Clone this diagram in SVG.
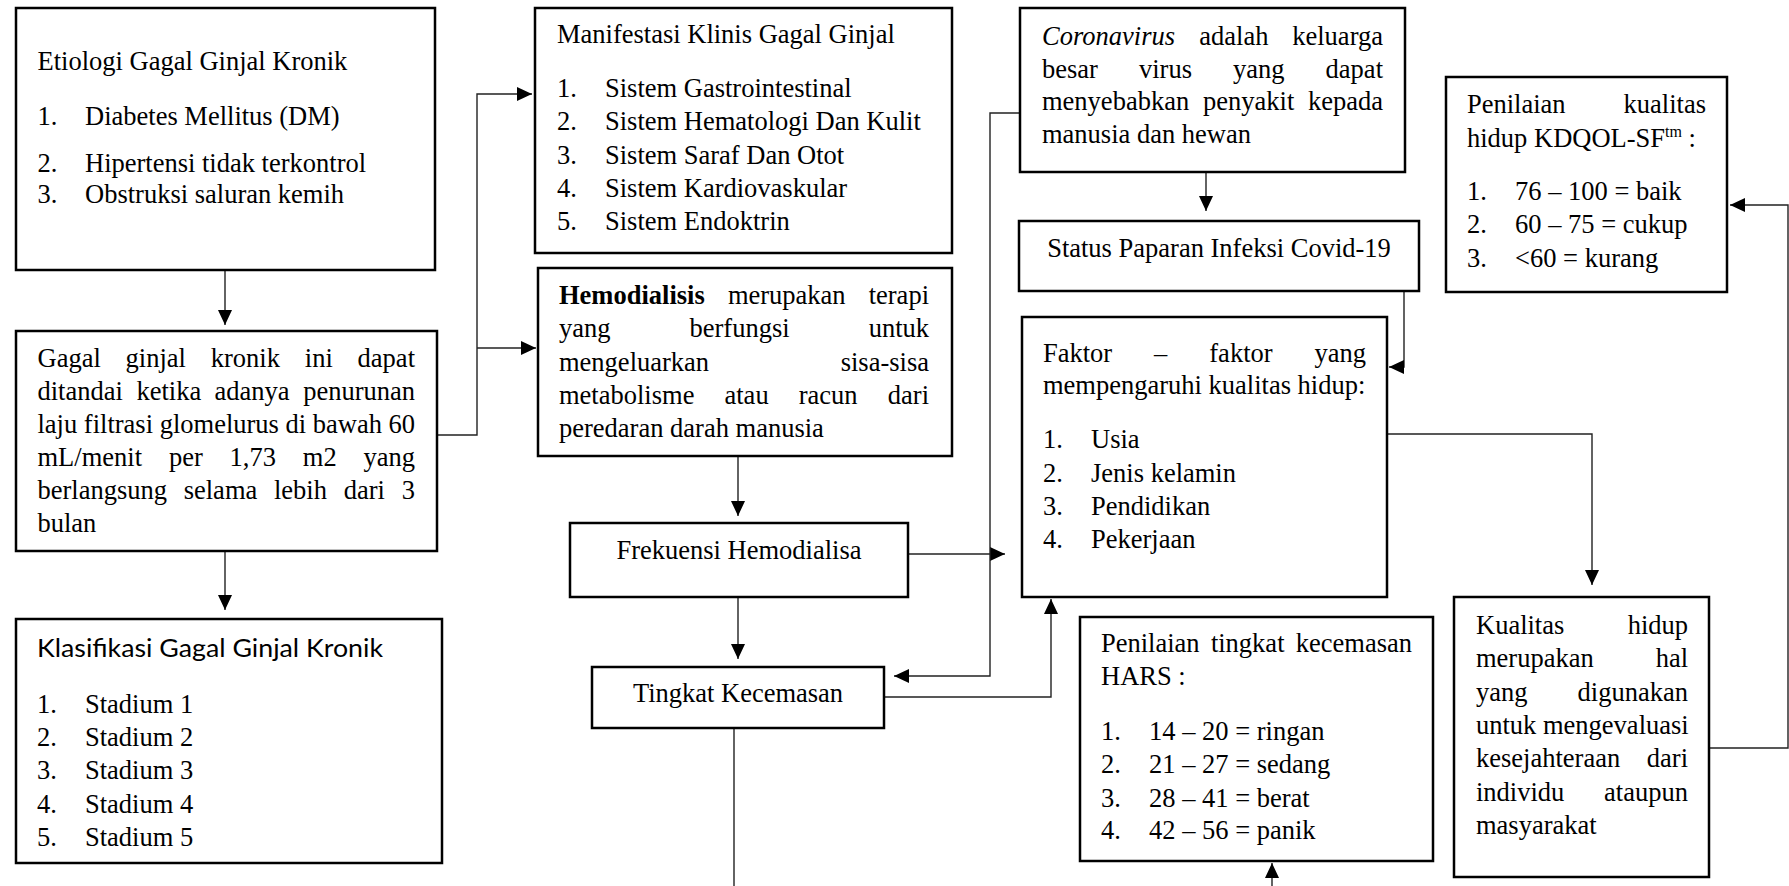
<svg xmlns="http://www.w3.org/2000/svg" width="1789" height="886" viewBox="0 0 1789 886">
<style>
.t{font-family:"Liberation Serif","Times New Roman",serif;font-size:26.5px;fill:#000}
.e{text-anchor:end}
.m{text-anchor:middle}
.s{font-family:Lato,"Noto Sans","Liberation Sans",sans-serif;font-size:25.5px;fill:#000}
.box{fill:#fff;stroke:#000;stroke-width:2.5}
.c{fill:none;stroke:#222;stroke-width:1.4}
</style>
<defs>
<marker id="ah" markerUnits="userSpaceOnUse" markerWidth="15" markerHeight="14" refX="15" refY="7" orient="auto" viewBox="0 0 15 14"><path d="M0,0 L15,7 L0,14 z" fill="#000"/></marker>
</defs>
<rect width="1789" height="886" fill="#fff"/>
<g id="connectors">
<path class="c" d="M225,270 V325" marker-end="url(#ah)"/>
<path class="c" d="M225,551 V610" marker-end="url(#ah)"/>
<path class="c" d="M437,435 H477 V94 H532" marker-end="url(#ah)"/>
<path class="c" d="M477,348 H536" marker-end="url(#ah)"/>
<path class="c" d="M738,456 V516" marker-end="url(#ah)"/>
<path class="c" d="M738,597 V659" marker-end="url(#ah)"/>
<path class="c" d="M908,554 H1005" marker-end="url(#ah)"/>
<path class="c" d="M1020,113 H990 V676 H894" marker-end="url(#ah)"/>
<path class="c" d="M884,697 H1051 V599" marker-end="url(#ah)"/>
<path class="c" d="M734,728 V886"/>
<path class="c" d="M1272,886 V863" marker-end="url(#ah)"/>
<path class="c" d="M1206,172 V211" marker-end="url(#ah)"/>
<path class="c" d="M1404,291 V367 H1389" marker-end="url(#ah)"/>
<path class="c" d="M1387,434 H1592 V585" marker-end="url(#ah)"/>
<path class="c" d="M1709,748 H1788 V205 H1730" marker-end="url(#ah)"/>
</g>
<g id="etiologi">
<rect class="box" x="16" y="8" width="419" height="262"/>
<text class="t" x="37.5" y="70">Etiologi Gagal Ginjal Kronik</text>
<text class="t" x="37.5" y="125">1.</text><text class="t" x="85" y="125">Diabetes Mellitus (DM)</text>
<text class="t" x="37.5" y="172">2.</text><text class="t" x="85" y="172">Hipertensi tidak terkontrol</text>
<text class="t" x="37.5" y="203">3.</text><text class="t" x="85" y="203">Obstruksi saluran kemih</text>
</g>
<g id="gagal">
<rect class="box" x="16" y="331" width="421" height="220"/>
<text class="t" y="367"><tspan x="37.5">Gagal</tspan><tspan x="125.6">ginjal</tspan><tspan x="210.8">kronik</tspan><tspan x="304.8">ini</tspan></text>
<text class="t e" x="415" y="367">dapat</text>
<text class="t" y="400"><tspan x="37.5">ditandai</tspan><tspan x="136.4">ketika</tspan><tspan x="214.6">adanya</tspan></text>
<text class="t e" x="415" y="400">penurunan</text>
<text class="t" x="37.5" y="433">laju filtrasi glomelurus di bawah 60</text>
<text class="t" y="466"><tspan x="37.5">mL/menit</tspan><tspan x="168.9">per</tspan><tspan x="229.6">1,73</tspan><tspan x="302.8">m2</tspan></text>
<text class="t e" x="415" y="466">yang</text>
<text class="t" y="499"><tspan x="37.5">berlangsung</tspan><tspan x="183.7">selama</tspan><tspan x="274">lebih</tspan><tspan x="343.7">dari</tspan></text>
<text class="t e" x="415" y="499">3</text>
<text class="t" x="37.5" y="532">bulan</text>
</g>
<g id="klasifikasi">
<rect class="box" x="16" y="619" width="426" height="244"/>
<text class="s" x="37" y="657" textLength="346" lengthAdjust="spacingAndGlyphs">Klasifikasi Gagal Ginjal Kronik</text>
<text class="t" x="37" y="713">1.</text><text class="t" x="85" y="713">Stadium 1</text>
<text class="t" x="37" y="746">2.</text><text class="t" x="85" y="746">Stadium 2</text>
<text class="t" x="37" y="779">3.</text><text class="t" x="85" y="779">Stadium 3</text>
<text class="t" x="37" y="813">4.</text><text class="t" x="85" y="813">Stadium 4</text>
<text class="t" x="37" y="846">5.</text><text class="t" x="85" y="846">Stadium 5</text>
</g>
<g id="manifestasi">
<rect class="box" x="535" y="8" width="417" height="245"/>
<text class="t" x="557" y="43">Manifestasi Klinis Gagal Ginjal</text>
<text class="t" x="557" y="97">1.</text><text class="t" x="605" y="97">Sistem Gastrointestinal</text>
<text class="t" x="557" y="130">2.</text><text class="t" x="605" y="130">Sistem Hematologi Dan Kulit</text>
<text class="t" x="557" y="164">3.</text><text class="t" x="605" y="164">Sistem Saraf Dan Otot</text>
<text class="t" x="557" y="197">4.</text><text class="t" x="605" y="197">Sistem Kardiovaskular</text>
<text class="t" x="557" y="230">5.</text><text class="t" x="605" y="230">Sistem Endoktrin</text>
</g>
<g id="hemodialisis">
<rect class="box" x="538" y="268" width="414" height="188"/>
<text class="t" y="304"><tspan x="559" font-weight="bold">Hemodialisis</tspan><tspan x="727.9">merupakan</tspan></text>
<text class="t e" x="929" y="304">terapi</text>
<text class="t" y="337"><tspan x="559">yang</tspan><tspan x="689.5">berfungsi</tspan></text>
<text class="t e" x="929" y="337">untuk</text>
<text class="t" x="559" y="371">mengeluarkan</text>
<text class="t e" x="929" y="371">sisa-sisa</text>
<text class="t" y="404"><tspan x="559">metabolisme</tspan><tspan x="724.5">atau</tspan><tspan x="798.7">racun</tspan></text>
<text class="t e" x="929" y="404">dari</text>
<text class="t" x="559" y="437">peredaran darah manusia</text>
</g>
<g id="frekuensi">
<rect class="box" x="570" y="523" width="338" height="74"/>
<text class="t m" x="739" y="559">Frekuensi Hemodialisa</text>
</g>
<g id="tingkat">
<rect class="box" x="592" y="667" width="292" height="61"/>
<text class="t m" x="738" y="702">Tingkat Kecemasan</text>
</g>
<g id="coronavirus">
<rect class="box" x="1020" y="8" width="385" height="164"/>
<text class="t" y="45"><tspan x="1042" font-style="italic">Coronavirus</tspan><tspan x="1199.3">adalah</tspan></text>
<text class="t e" x="1383" y="45">keluarga</text>
<text class="t" y="78"><tspan x="1042">besar</tspan><tspan x="1139">virus</tspan><tspan x="1233.1">yang</tspan></text>
<text class="t e" x="1383" y="78">dapat</text>
<text class="t" y="110"><tspan x="1042">menyebabkan</tspan><tspan x="1203">penyakit</tspan></text>
<text class="t e" x="1383" y="110">kepada</text>
<text class="t" x="1042" y="143">manusia dan hewan</text>
</g>
<g id="status">
<rect class="box" x="1019" y="221" width="400" height="70"/>
<text class="t m" x="1219" y="257">Status Paparan Infeksi Covid-19</text>
</g>
<g id="faktor">
<rect class="box" x="1022" y="317" width="365" height="280"/>
<text class="t" y="362"><tspan x="1043">Faktor</tspan><tspan x="1154.1">–</tspan><tspan x="1209.3">faktor</tspan></text>
<text class="t e" x="1366" y="362">yang</text>
<text class="t" x="1043" y="394">mempengaruhi kualitas hidup:</text>
<text class="t" x="1043" y="448">1.</text><text class="t" x="1091" y="448">Usia</text>
<text class="t" x="1043" y="482">2.</text><text class="t" x="1091" y="482">Jenis kelamin</text>
<text class="t" x="1043" y="515">3.</text><text class="t" x="1091" y="515">Pendidikan</text>
<text class="t" x="1043" y="548">4.</text><text class="t" x="1091" y="548">Pekerjaan</text>
</g>
<g id="hars">
<rect class="box" x="1080" y="617" width="353" height="244"/>
<text class="t" y="652"><tspan x="1101">Penilaian</tspan><tspan x="1210.9">tingkat</tspan></text>
<text class="t e" x="1412" y="652">kecemasan</text>
<text class="t" x="1101" y="685">HARS :</text>
<text class="t" x="1101" y="740">1.</text><text class="t" x="1149" y="740">14 – 20 = ringan</text>
<text class="t" x="1101" y="773">2.</text><text class="t" x="1149" y="773">21 – 27 = sedang</text>
<text class="t" x="1101" y="807">3.</text><text class="t" x="1149" y="807">28 – 41 = berat</text>
<text class="t" x="1101" y="839">4.</text><text class="t" x="1149" y="839">42 – 56 = panik</text>
</g>
<g id="penilaian-kualitas">
<rect class="box" x="1446" y="77" width="281" height="215"/>
<text class="t" x="1467" y="113">Penilaian</text>
<text class="t e" x="1706" y="113">kualitas</text>
<text class="t" x="1467" y="147">hidup KDQOL-SF<tspan font-size="16" dy="-10">tm</tspan><tspan dy="10"> :</tspan></text>
<text class="t" x="1467" y="200">1.</text><text class="t" x="1515" y="200">76 – 100 = baik</text>
<text class="t" x="1467" y="233">2.</text><text class="t" x="1515" y="233">60 – 75 = cukup</text>
<text class="t" x="1467" y="267">3.</text><text class="t" x="1515" y="267">&lt;60 = kurang</text>
</g>
<g id="kualitas-hidup">
<rect class="box" x="1454" y="597" width="255" height="280"/>
<text class="t" x="1476" y="634">Kualitas</text><text class="t e" x="1688" y="634">hidup</text>
<text class="t" x="1476" y="667">merupakan</text><text class="t e" x="1688" y="667">hal</text>
<text class="t" x="1476" y="701">yang</text><text class="t e" x="1688" y="701">digunakan</text>
<text class="t" x="1476" y="734">untuk mengevaluasi</text>
<text class="t" x="1476" y="767">kesejahteraan</text><text class="t e" x="1688" y="767">dari</text>
<text class="t" x="1476" y="801">individu</text><text class="t e" x="1688" y="801">ataupun</text>
<text class="t" x="1476" y="834">masyarakat</text>
</g>
</svg>
